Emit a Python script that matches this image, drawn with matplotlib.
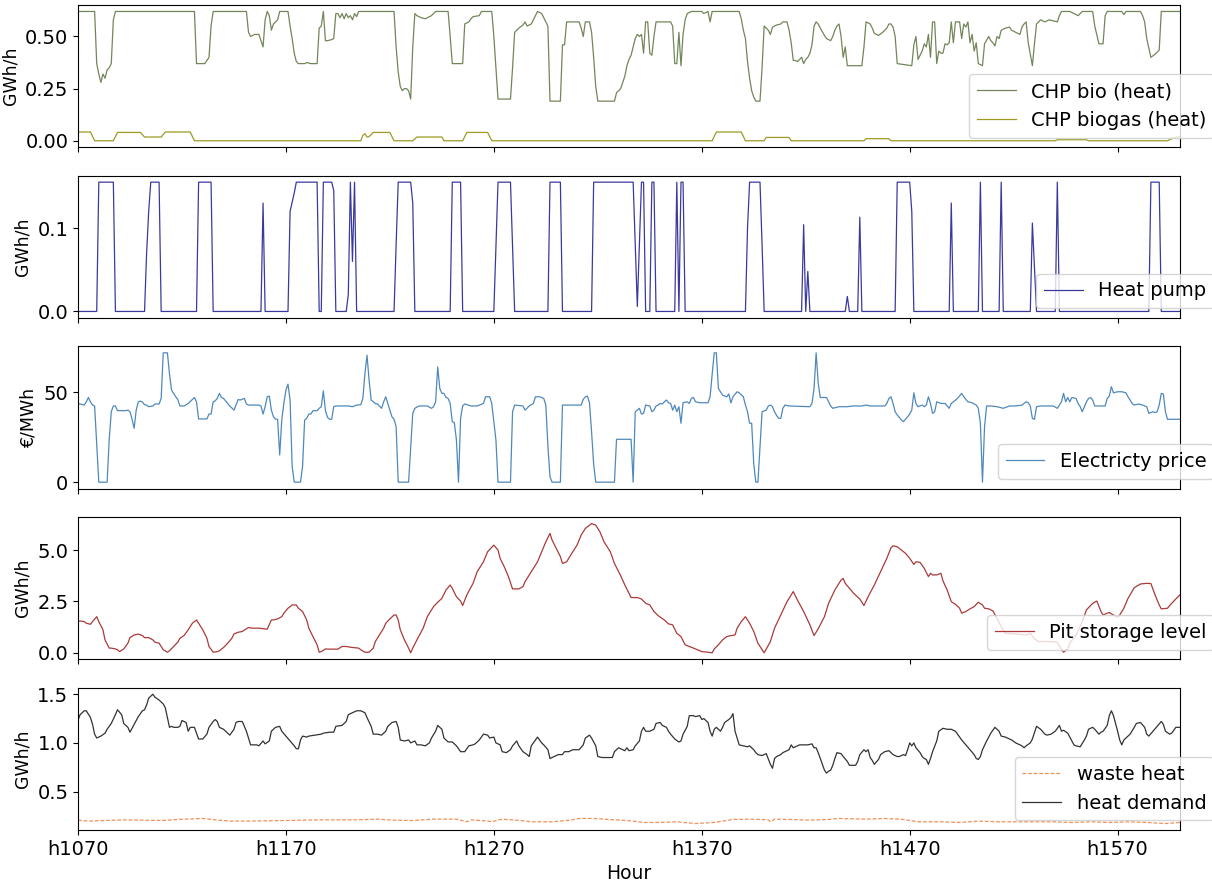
import matplotlib
matplotlib.use("Agg")
import matplotlib.pyplot as plt

# hourly series, stored as (hour, value) break points
chp_bio = [(1070, .62), (1078, .62), (1079, .37), (1080, .32), (1081, .28), (1082, .32), (1083, .30),
           (1084, .34), (1085, .35), (1086, .37), (1087, .58), (1088, .62), (1126, .62), (1127, .37),
           (1131, .37), (1133, .40), (1134, .55), (1135, .62), (1151, .62), (1152, .52), (1153, .50),
           (1155, .51), (1157, .51), (1158, .48), (1159, .45), (1160, .58), (1161, .62), (1162, .60),
           (1163, .53), (1164, .56), (1166, .58), (1167, .62), (1171, .62), (1172, .55), (1173, .49),
           (1174, .42), (1175, .38), (1176, .37), (1179, .37), (1180, .375), (1182, .37), (1185, .37),
           (1186, .54), (1187, .55), (1188, .62), (1189, .48), (1190, .48), (1192, .485), (1193, .49),
           (1194, .61), (1195, .61), (1196, .59), (1197, .61), (1198, .585), (1199, .61), (1200, .59),
           (1201, .60), (1202, .58), (1203, .61), (1204, .595), (1205, .62), (1222, .62), (1223, .45),
           (1224, .33), (1225, .26), (1226, .24), (1227, .25), (1228, .25), (1229, .24), (1230, .20),
           (1231, .45), (1232, .61), (1233, .60), (1235, .59), (1237, .585), (1238, .59), (1240, .60),
           (1241, .61), (1242, .62), (1248, .62), (1249, .50), (1250, .37), (1255, .37), (1256, .56),
           (1258, .57), (1259, .585), (1260, .595), (1263, .60), (1264, .62), (1269, .62), (1270, .50),
           (1271, .35), (1272, .20), (1278, .20), (1279, .35), (1280, .52), (1282, .54), (1284, .555),
           (1285, .57), (1286, .55), (1288, .56), (1290, .60), (1291, .62), (1293, .61), (1294, .59),
           (1295, .57), (1296, .55), (1297, .19), (1302, .19), (1303, .46), (1304, .46), (1305, .57),
           (1311, .57), (1312, .54), (1313, .50), (1314, .57), (1316, .57), (1317, .52), (1318, .40),
           (1319, .26), (1320, .19), (1328, .19), (1329, .23), (1331, .25), (1332, .28), (1333, .31),
           (1334, .36), (1335, .39), (1336, .41), (1337, .45), (1338, .49), (1339, .51), (1340, .50),
           (1341, .51), (1342, .42), (1343, .57), (1344, .57), (1345, .42), (1346, .41), (1347, .50),
           (1348, .57), (1355, .57), (1356, .55), (1357, .37), (1358, .37), (1359, .52), (1360, .36),
           (1361, .51), (1362, .58), (1363, .61), (1365, .62), (1370, .62), (1371, .61), (1373, .62),
           (1374, .57), (1375, .62), (1388, .62), (1389, .585), (1390, .53), (1391, .49), (1392, .38),
           (1393, .30), (1394, .24), (1395, .21), (1396, .19), (1398, .19), (1399, .35), (1400, .55),
           (1401, .54), (1402, .53), (1403, .51), (1404, .545), (1406, .555), (1408, .56), (1409, .57),
           (1411, .57), (1412, .53), (1413, .47), (1414, .385), (1415, .385), (1416, .38), (1417, .39),
           (1418, .40), (1419, .37), (1420, .39), (1421, .40), (1422, .42), (1423, .46), (1424, .55),
           (1425, .57), (1426, .56), (1427, .54), (1429, .505), (1430, .49), (1432, .48), (1433, .50),
           (1434, .53), (1435, .55), (1436, .56), (1437, .50), (1438, .40), (1439, .45), (1440, .36),
           (1447, .36), (1448, .45), (1449, .57), (1451, .56), (1452, .54), (1453, .515), (1455, .505),
           (1457, .52), (1459, .54), (1460, .56), (1461, .56), (1462, .545), (1463, .50), (1464, .37),
           (1471, .36), (1472, .46), (1473, .50), (1474, .39), (1476, .43), (1477, .465), (1478, .45),
           (1479, .51), (1480, .40), (1481, .57), (1482, .57), (1483, .37), (1484, .43), (1485, .42),
           (1486, .42), (1487, .465), (1488, .46), (1489, .47), (1490, .57), (1491, .47), (1492, .57),
           (1494, .57), (1495, .49), (1496, .56), (1497, .545), (1498, .57), (1499, .47), (1500, .51),
           (1501, .43), (1502, .47), (1503, .37), (1505, .36), (1506, .465), (1508, .50), (1509, .48),
           (1510, .47), (1511, .455), (1512, .50), (1513, .49), (1514, .53), (1516, .54), (1518, .545),
           (1519, .53), (1521, .52), (1523, .51), (1524, .545), (1525, .56), (1526, .57), (1527, .47),
           (1529, .36), (1530, .465), (1531, .56), (1532, .57), (1533, .58), (1535, .57), (1537, .58),
           (1541, .57), (1542, .60), (1543, .62), (1547, .62), (1549, .61), (1551, .60), (1553, .62),
           (1558, .62), (1559, .55), (1561, .465), (1563, .465), (1564, .60), (1565, .62), (1572, .62),
           (1573, .605), (1574, .62), (1581, .62), (1582, .60), (1583, .57), (1584, .49), (1586, .40),
           (1588, .415), (1590, .435), (1591, .62), (1600, .62)]

chp_biogas = [(1070, .042), (1076, .042), (1078, 0), (1087, 0), (1089, .04), (1100, .04), (1102, .018),
              (1110, .018), (1112, .042), (1124, .042), (1126, 0), (1206, 0), (1207, .026), (1208, .034),
              (1209, .018), (1210, .02), (1212, .04), (1220, .04), (1222, 0), (1231, 0), (1233, .018),
              (1245, .018), (1246, 0), (1255, 0), (1257, .04), (1267, .04), (1269, 0), (1375, 0),
              (1377, .042), (1389, .042), (1391, 0), (1400, 0), (1401, .016), (1412, .016), (1413, 0),
              (1448, 0), (1449, .01), (1460, .01), (1461, 0), (1540, 0), (1541, .005), (1555, .005),
              (1556, 0), (1594, 0), (1597, .015), (1600, .02)]

T = 0.155  # heat pump capacity
heat_pump = [(1070, 0), (1079, 0), (1080, T), (1087, T), (1088, 0), (1102, 0), (1103, .07), (1104, .12),
             (1105, T), (1109, T), (1110, 0), (1127, 0), (1128, T), (1134, T), (1135, 0), (1158, 0),
             (1159, .13), (1160, 0), (1171, 0), (1172, .12), (1174, .142), (1175, T), (1185, T),
             (1186, 0), (1187, 0), (1188, T), (1192, T), (1193, .145), (1194, 0), (1199, 0), (1200, .02),
             (1201, T), (1202, .06), (1203, T), (1204, 0), (1222, 0), (1223, .08), (1224, T), (1230, T),
             (1231, .13), (1232, 0), (1249, 0), (1250, T), (1254, T), (1255, 0), (1270, 0), (1272, T),
             (1278, T), (1280, 0), (1296, 0), (1297, T), (1302, T), (1303, 0), (1317, 0), (1318, T),
             (1337, T), (1339, .006), (1341, T), (1342, T), (1343, 0), (1345, 0), (1346, T), (1347, T),
             (1348, 0), (1357, 0), (1358, T), (1359, 0), (1360, T), (1361, T), (1362, 0), (1391, 0),
             (1392, .1), (1393, T), (1398, T), (1399, .08), (1400, 0), (1418, 0), (1419, .104),
             (1420, 0), (1421, .048), (1422, 0), (1439, 0), (1440, .018), (1441, 0), (1445, 0),
             (1446, .113), (1447, 0), (1463, 0), (1464, T), (1470, T), (1471, .12), (1472, 0),
             (1489, 0), (1490, .13), (1491, 0), (1503, 0), (1504, T), (1505, 0), (1513, 0), (1514, T),
             (1515, 0), (1528, 0), (1529, .106), (1531, 0), (1540, 0), (1541, T), (1542, 0), (1585, 0),
             (1586, T), (1590, T), (1591, 0), (1600, 0)]

el_price = [(1070, 43.7), (1071, 43.4), (1073, 42.8), (1074, 44.6), (1075, 47), (1076, 44.6), (1077, 42.8),
            (1078, 42.3), (1080, 0), (1084, 0), (1085, 23.4), (1086, 39.1), (1087, 42.3), (1088, 42.3),
            (1089, 39.7), (1093, 39.7), (1094, 40), (1095, 39.1), (1096, 35), (1097, 29.9), (1098, 40),
            (1099, 44.6), (1100, 45), (1101, 44.5), (1102, 43), (1103, 42.8), (1104, 41.9), (1106, 42.3),
            (1107, 43.4), (1109, 43.4), (1110, 46.5), (1111, 71.8), (1113, 71.8), (1114, 60), (1115, 51.1),
            (1116, 49.3), (1117, 47.4), (1118, 45.9), (1119, 42.3), (1121, 42.3), (1123, 43.7),
            (1125, 45.9), (1126, 47), (1127, 44.6), (1128, 35.1), (1132, 35.1), (1133, 37.8),
            (1134, 37.8), (1135, 44.6), (1136, 45.2), (1137, 46.5), (1138, 49.3), (1139, 47), (1140, 46.5),
            (1142, 43.7), (1143, 42.3), (1145, 40), (1146, 42.8), (1147, 45.9), (1148, 45.6), (1150, 46.5),
            (1151, 43.4), (1152, 42.8), (1157, 42.8), (1158, 42.3), (1159, 37.8), (1160, 41.9),
            (1161, 47.4), (1162, 47.8), (1163, 40), (1164, 36.3), (1165, 35), (1166, 34.9), (1167, 15.1),
            (1168, 34.5), (1169, 43.7), (1170, 51.1), (1171, 54.4), (1172, 45.6), (1173, 8.7), (1174, 0),
            (1177, 0), (1178, 8.7), (1179, 34.5), (1180, 35.4), (1181, 37.8), (1182, 37.8), (1183, 39.7),
            (1185, 39.7), (1186, 41), (1187, 41.9), (1188, 50.7), (1189, 39.7), (1190, 36), (1191, 34.9),
            (1192, 34.9), (1193, 41.9), (1194, 42.3), (1200, 42.3), (1202, 41.9), (1204, 42.8),
            (1206, 43), (1207, 46.5), (1208, 60.3), (1209, 70.5), (1210, 56.6), (1211, 45.6),
            (1213, 43.7), (1214, 43.4), (1216, 41), (1217, 44.6), (1218, 47.4), (1219, 43.7), (1220, 40),
            (1221, 36.3), (1222, 34.9), (1223, 30.8), (1224, 0), (1229, 0), (1231, 38.2), (1232, 41),
            (1234, 42.3), (1238, 42.3), (1240, 41), (1241, 41.9), (1242, 44.6), (1243, 64), (1244, 52),
            (1245, 49.3), (1246, 49.3), (1247, 47), (1248, 46.5), (1249, 43.7), (1250, 33.6), (1251, 33),
            (1252, 23.4), (1253, 0), (1254, 35.4), (1255, 42.3), (1256, 43.4), (1259, 42.3), (1262, 42.3),
            (1265, 43.7), (1266, 47.4), (1268, 47.4), (1269, 43.7), (1271, 23.4), (1272, 0), (1278, 0),
            (1279, 39.1), (1280, 42.8), (1284, 42.3), (1285, 40), (1287, 42.3), (1289, 43.7), (1290, 47.4),
            (1292, 47.4), (1294, 46.5), (1295, 42.8), (1296, 20), (1297, 3), (1298, 0), (1302, 0),
            (1303, 42.8), (1312, 42.8), (1313, 46), (1314, 47.4), (1315, 47.8), (1316, 44), (1317, 28),
            (1318, 10), (1319, 0), (1328, 0), (1329, 23.8), (1336, 23.8), (1337, 0), (1338, 39.1),
            (1339, 40), (1340, 41), (1341, 37.8), (1342, 38.2), (1343, 42.8), (1345, 42.3), (1346, 39.1),
            (1347, 40), (1348, 42.3), (1349, 42.8), (1350, 43.7), (1351, 43.4), (1352, 44.6), (1353, 45.6),
            (1354, 44.1), (1355, 43.7), (1356, 40), (1357, 42.8), (1358, 39.1), (1359, 41.9), (1360, 32.7),
            (1361, 44.1), (1363, 44.6), (1364, 43.7), (1365, 46.5), (1366, 47), (1367, 44.6), (1369, 44.1),
            (1373, 44.1), (1374, 47.4), (1375, 60), (1376, 71.8), (1377, 71.8), (1378, 52), (1379, 50.2),
            (1380, 48.3), (1382, 47.4), (1383, 49), (1384, 44), (1385, 47.4), (1387, 50.2), (1388, 49.6),
            (1390, 47.4), (1391, 42.8), (1392, 39.1), (1393, 32.7), (1394, 32.7), (1395, 10), (1396, 0),
            (1397, 0), (1398, 20), (1399, 39.1), (1401, 40), (1402, 42.3), (1403, 42.8), (1404, 41.9),
            (1405, 39.1), (1406, 37), (1407, 35.4), (1408, 35.4), (1409, 41), (1410, 42.8), (1412, 42.3),
            (1422, 41.9), (1423, 43.7), (1424, 52), (1425, 71.8), (1426, 55), (1427, 47), (1430, 47),
            (1431, 44.6), (1432, 42.3), (1433, 41), (1436, 41.9), (1440, 41.9), (1443, 42.3), (1447, 42.3),
            (1449, 42.8), (1451, 42.3), (1458, 42.3), (1459, 43.7), (1460, 46.5), (1461, 47.4),
            (1462, 43.7), (1463, 39.1), (1464, 37.3), (1466, 34.5), (1467, 33.6), (1469, 36.3),
            (1470, 37.8), (1471, 40), (1472, 49.6), (1473, 43.7), (1474, 41.9), (1476, 42.8), (1477, 41.9),
            (1478, 42.8), (1479, 47.4), (1480, 43.7), (1481, 38.2), (1482, 39), (1483, 44.6), (1485, 43.7),
            (1487, 43.7), (1489, 41), (1490, 43.7), (1491, 44.6), (1493, 46.5), (1495, 49.3), (1496, 47.4),
            (1498, 44.6), (1500, 44.1), (1502, 42.8), (1503, 41), (1504, 32.7), (1505, 0), (1506, 30.8),
            (1507, 42.3), (1509, 42.3), (1512, 41.9), (1515, 41), (1518, 42.3), (1521, 42.3), (1524, 42.8),
            (1526, 44.6), (1527, 44.1), (1528, 42.3), (1529, 35.4), (1530, 34.9), (1531, 41.9),
            (1533, 42.3), (1539, 42.3), (1541, 41), (1543, 44.6), (1544, 49.3), (1545, 44.6), (1546, 47),
            (1547, 44.6), (1548, 47), (1550, 46.5), (1551, 43.7), (1552, 41.9), (1553, 39.1), (1554, 41.9),
            (1555, 44.6), (1556, 46.5), (1557, 47), (1558, 45.6), (1559, 42.3), (1564, 42.3), (1565, 46.5),
            (1566, 47.8), (1567, 53), (1568, 49.6), (1570, 50.2), (1572, 50.2), (1574, 49.6), (1575, 47.4),
            (1577, 43.7), (1578, 42.8), (1580, 43.4), (1582, 42.8), (1584, 41.9), (1585, 38.2),
            (1587, 39.1), (1588, 38.6), (1589, 39.1), (1590, 42.8), (1591, 49.3), (1592, 48.9),
            (1593, 39.1), (1594, 34.9), (1600, 34.9)]

pit_level = [(1070, 1.52), (1071, 1.55), (1073, 1.52), (1074, 1.44), (1076, 1.39), (1077, 1.52), (1079, 1.76),
             (1080, 1.52), (1082, 1.12), (1083, 0.63), (1085, 0.23), (1086, 0.23), (1088, 0.19),
             (1089, 0.15), (1090, 0.06), (1092, 0.19), (1094, 0.47), (1095, 0.74), (1097, 0.87),
             (1099, 0.91), (1101, 0.84), (1102, 0.74), (1104, 0.74), (1106, 0.63), (1107, 0.52),
             (1109, 0.47), (1110, 0.31), (1111, 0.15), (1113, 0.03), (1114, 0.10), (1116, 0.31),
             (1118, 0.52), (1119, 0.71), (1121, 0.84), (1123, 1.12), (1125, 1.44), (1127, 1.60),
             (1128, 1.44), (1130, 1.12), (1132, 0.71), (1133, 0.31), (1135, 0.03), (1137, 0.06),
             (1138, 0.10), (1140, 0.26), (1142, 0.47), (1144, 0.71), (1145, 0.92), (1147, 1.0),
             (1149, 1.04), (1151, 1.17), (1152, 1.23), (1154, 1.20), (1157, 1.20), (1161, 1.15),
             (1163, 1.60), (1164, 1.60), (1166, 1.65), (1168, 1.76), (1169, 1.93), (1171, 2.17),
             (1173, 2.33), (1175, 2.33), (1176, 2.17), (1178, 2.01), (1180, 1.60), (1181, 1.20),
             (1183, 0.79), (1185, 0.39), (1186, 0.03), (1187, 0.06), (1189, 0.19), (1191, 0.18),
             (1195, 0.18), (1197, 0.31), (1199, 0.31), (1200, 0.29), (1202, 0.26), (1205, 0.23),
             (1206, 0.15), (1208, 0.03), (1210, 0.03), (1212, 0.23), (1213, 0.55), (1215, 0.87),
             (1217, 1.20), (1218, 1.44), (1220, 1.65), (1222, 1.84), (1223, 1.84), (1224, 1.60),
             (1225, 1.12), (1227, 0.63), (1229, 0.23), (1230, 0), (1231, 0.23), (1233, 0.63),
             (1236, 1.20), (1238, 1.76), (1241, 2.25), (1243, 2.46), (1245, 2.65), (1247, 3.06),
             (1249, 3.30), (1250, 3.14), (1252, 2.73), (1254, 2.52), (1255, 2.30), (1257, 2.82),
             (1260, 3.38), (1262, 3.95), (1265, 4.43), (1267, 4.92), (1270, 5.24), (1272, 5.0),
             (1273, 4.60), (1275, 4.19), (1277, 3.71), (1279, 3.11), (1282, 3.11), (1284, 3.22),
             (1285, 3.46), (1288, 3.95), (1291, 4.43), (1293, 4.92), (1295, 5.40), (1297, 5.81),
             (1298, 5.49), (1300, 5.08), (1302, 4.68), (1303, 4.35), (1305, 4.43), (1307, 4.76),
             (1310, 5.24), (1312, 5.73), (1314, 6.05), (1316, 6.21), (1317, 6.29), (1319, 6.21),
             (1321, 5.89), (1323, 5.40), (1326, 4.92), (1328, 4.35), (1331, 3.75), (1333, 3.30),
             (1335, 2.90), (1336, 2.69), (1339, 2.69), (1341, 2.62), (1343, 2.41), (1345, 2.33),
             (1347, 2.01), (1349, 1.81), (1352, 1.60), (1354, 1.41), (1356, 1.36), (1358, 0.95),
             (1360, 0.79), (1362, 0.39), (1364, 0.31), (1367, 0.19), (1370, 0.06), (1373, 0.03),
             (1375, 0), (1376, 0.19), (1378, 0.39), (1380, 0.63), (1382, 0.79), (1384, 0.84),
             (1386, 0.87), (1387, 1.20), (1389, 1.52), (1391, 1.76), (1393, 1.44), (1395, 1.04),
             (1397, 0.47), (1400, 0), (1403, 0.55), (1405, 1.20), (1408, 1.84), (1411, 2.49),
             (1414, 2.98), (1416, 2.57), (1419, 2.01), (1422, 1.36), (1424, 0.84), (1426, 1.17),
             (1429, 1.76), (1431, 2.41), (1434, 3.06), (1437, 3.54), (1438, 3.62), (1439, 3.38),
             (1441, 3.14), (1443, 2.90), (1446, 2.62), (1448, 2.30), (1450, 2.73), (1453, 3.30),
             (1456, 3.95), (1459, 4.60), (1461, 5.11), (1462, 5.21), (1464, 5.16), (1466, 5.0),
             (1468, 4.84), (1470, 4.60), (1472, 4.30), (1473, 4.43), (1475, 4.40), (1477, 4.11),
             (1479, 3.71), (1480, 3.87), (1481, 3.79), (1483, 3.79), (1485, 3.87), (1486, 3.50),
             (1488, 3.06), (1490, 2.49), (1492, 2.36), (1494, 2.17), (1495, 1.93), (1497, 2.01),
             (1499, 2.14), (1501, 2.25), (1503, 2.46), (1505, 2.33), (1506, 2.17), (1508, 2.14),
             (1510, 2.04), (1512, 1.68), (1514, 1.28), (1516, 0.95), (1521, 0.92), (1526, 0.87),
             (1528, 0.95), (1530, 0.68), (1532, 0.55), (1537, 0.55), (1541, 0.52), (1542, 0.31),
             (1544, 0.03), (1546, 0.19), (1547, 0.47), (1550, 0.87), (1553, 1.52), (1555, 2.09),
             (1558, 2.41), (1560, 2.52), (1562, 2.01), (1563, 1.84), (1565, 1.93), (1566, 1.96),
             (1568, 1.84), (1570, 1.72), (1571, 1.84), (1573, 2.17), (1575, 2.65), (1578, 3.17),
             (1581, 3.35), (1584, 3.38), (1586, 3.37), (1588, 2.82), (1590, 2.33), (1591, 2.14),
             (1594, 2.17), (1595, 2.30), (1598, 2.62), (1600, 2.82)]

waste_heat = [(1070, .207), (1075, .197), (1083, .203), (1092, .21), (1100, .207), (1111, .203), (1118, .214),
              (1130, .224), (1136, .21), (1143, .197), (1152, .197), (1169, .203), (1186, .21), (1204, .21),
              (1214, .217), (1221, .207), (1231, .203), (1241, .217), (1252, .217), (1257, .19),
              (1259, .21), (1267, .197), (1269, .19), (1274, .217), (1283, .203), (1288, .19), (1298, .19),
              (1307, .207), (1311, .224), (1318, .224), (1325, .214), (1331, .207), (1337, .197),
              (1342, .183), (1349, .183), (1358, .19), (1367, .172), (1376, .183), (1385, .214),
              (1394, .217), (1402, .21), (1403, .19), (1405, .217), (1412, .214), (1422, .207),
              (1431, .214), (1436, .224), (1449, .217), (1458, .224), (1467, .214), (1474, .19),
              (1485, .19), (1494, .183), (1503, .197), (1512, .19), (1530, .19), (1539, .19), (1548, .183),
              (1557, .19), (1566, .183), (1575, .19), (1584, .183), (1593, .172), (1600, .183)]

heat_demand = [(1070, 1.23), (1071, 1.29), (1073, 1.33), (1074, 1.33), (1076, 1.26), (1077, 1.19), (1078, 1.09),
               (1079, 1.05), (1081, 1.07), (1083, 1.10), (1084, 1.14), (1086, 1.20), (1088, 1.29),
               (1089, 1.34), (1091, 1.29), (1092, 1.20), (1094, 1.16), (1095, 1.11), (1097, 1.19),
               (1099, 1.27), (1101, 1.33), (1102, 1.34), (1103, 1.39), (1104, 1.46), (1106, 1.50),
               (1107, 1.47), (1109, 1.44), (1111, 1.40), (1112, 1.36), (1113, 1.26), (1114, 1.16),
               (1115, 1.17), (1116, 1.16), (1118, 1.16), (1119, 1.17), (1120, 1.23), (1122, 1.21),
               (1123, 1.12), (1124, 1.16), (1126, 1.16), (1127, 1.10), (1128, 1.04), (1130, 1.04),
               (1132, 1.09), (1133, 1.16), (1135, 1.22), (1136, 1.24), (1137, 1.22), (1138, 1.16),
               (1140, 1.14), (1142, 1.10), (1143, 1.08), (1145, 1.14), (1146, 1.21), (1147, 1.22),
               (1149, 1.22), (1150, 1.17), (1151, 1.12), (1152, 1.05), (1153, 0.98), (1156, 0.98),
               (1157, 0.97), (1159, 1.02), (1160, 0.99), (1162, 1.02), (1163, 1.12), (1165, 1.16),
               (1167, 1.17), (1168, 1.12), (1170, 1.07), (1172, 1.02), (1174, 0.97), (1175, 0.94),
               (1176, 0.94), (1177, 1.03), (1178, 1.07), (1180, 1.06), (1181, 1.07), (1184, 1.08),
               (1187, 1.09), (1188, 1.10), (1191, 1.11), (1193, 1.11), (1194, 1.17), (1197, 1.18),
               (1199, 1.22), (1200, 1.29), (1202, 1.31), (1204, 1.33), (1206, 1.33), (1208, 1.31),
               (1209, 1.26), (1211, 1.17), (1212, 1.09), (1214, 1.09), (1216, 1.08), (1218, 1.12),
               (1219, 1.17), (1221, 1.21), (1223, 1.22), (1224, 1.16), (1225, 1.03), (1227, 1.02),
               (1229, 1.03), (1230, 1.0), (1232, 1.02), (1233, 0.98), (1235, 0.98), (1237, 0.97),
               (1239, 1.0), (1240, 1.05), (1242, 1.12), (1243, 1.18), (1245, 1.14), (1246, 1.05),
               (1248, 1.01), (1250, 1.01), (1252, 0.97), (1254, 0.91), (1256, 0.91), (1258, 0.97),
               (1260, 0.98), (1261, 0.99), (1263, 1.03), (1265, 1.09), (1267, 1.08), (1268, 1.05),
               (1270, 1.06), (1271, 1.0), (1273, 0.98), (1274, 0.91), (1276, 0.90), (1278, 0.93),
               (1279, 0.97), (1281, 1.02), (1282, 0.97), (1284, 0.91), (1286, 0.88), (1287, 0.86),
               (1288, 0.97), (1290, 1.03), (1291, 1.06), (1293, 1.0), (1294, 0.98), (1296, 0.93),
               (1297, 0.84), (1299, 0.86), (1301, 0.88), (1303, 0.88), (1304, 0.91), (1306, 0.91),
               (1308, 0.93), (1311, 0.93), (1313, 0.98), (1314, 1.05), (1316, 1.08), (1317, 1.05),
               (1319, 0.97), (1320, 0.86), (1322, 0.85), (1327, 0.85), (1328, 0.91), (1330, 0.95),
               (1331, 0.94), (1333, 0.92), (1334, 0.95), (1335, 0.92), (1337, 0.93), (1338, 0.97),
               (1340, 1.02), (1341, 1.12), (1342, 1.16), (1343, 1.12), (1345, 1.12), (1347, 1.14),
               (1348, 1.20), (1350, 1.21), (1351, 1.18), (1353, 1.16), (1354, 1.12), (1355, 1.09),
               (1357, 1.04), (1359, 1.01), (1360, 1.02), (1361, 1.09), (1363, 1.17), (1364, 1.28),
               (1366, 1.28), (1367, 1.27), (1369, 1.28), (1370, 1.24), (1371, 1.25), (1373, 1.21),
               (1374, 1.12), (1375, 1.07), (1376, 1.14), (1377, 1.16), (1379, 1.12), (1380, 1.16),
               (1381, 1.21), (1383, 1.24), (1384, 1.26), (1385, 1.30), (1386, 1.12), (1388, 0.98),
               (1390, 0.97), (1392, 0.96), (1393, 0.97), (1395, 0.93), (1396, 0.90), (1397, 0.88),
               (1399, 0.87), (1400, 0.88), (1401, 0.89), (1403, 0.78), (1404, 0.74), (1405, 0.84),
               (1406, 0.86), (1408, 0.88), (1409, 0.90), (1410, 0.91), (1412, 0.93), (1413, 0.98),
               (1414, 0.95), (1416, 0.97), (1417, 0.98), (1421, 0.98), (1423, 0.99), (1424, 0.95),
               (1425, 0.95), (1426, 0.90), (1427, 0.84), (1428, 0.78), (1429, 0.72), (1430, 0.69),
               (1431, 0.71), (1432, 0.72), (1433, 0.77), (1434, 0.84), (1435, 0.90), (1437, 0.89),
               (1438, 0.86), (1440, 0.81), (1441, 0.77), (1444, 0.77), (1445, 0.81), (1446, 0.88),
               (1448, 0.93), (1449, 0.91), (1450, 0.93), (1451, 0.85), (1452, 0.82), (1453, 0.78),
               (1455, 0.83), (1456, 0.88), (1458, 0.91), (1460, 0.92), (1461, 0.90), (1462, 0.88),
               (1464, 0.86), (1465, 0.86), (1467, 0.88), (1468, 0.87), (1469, 0.93), (1470, 1.0),
               (1471, 0.97), (1472, 1.0), (1473, 0.95), (1475, 0.90), (1476, 0.86), (1477, 0.84),
               (1478, 0.83), (1479, 0.78), (1480, 0.84), (1481, 0.91), (1483, 1.02), (1484, 1.12),
               (1486, 1.15), (1488, 1.14), (1490, 1.14), (1492, 1.12), (1493, 1.09), (1495, 1.03),
               (1497, 0.98), (1499, 0.93), (1501, 0.88), (1502, 0.84), (1503, 0.83), (1504, 0.86),
               (1505, 0.93), (1507, 1.02), (1509, 1.10), (1511, 1.16), (1513, 1.12), (1514, 1.07),
               (1516, 1.06), (1517, 1.05), (1519, 1.03), (1521, 1.0), (1522, 0.99), (1524, 0.97),
               (1525, 0.95), (1526, 0.97), (1528, 1.0), (1529, 1.04), (1531, 1.17), (1533, 1.14),
               (1535, 1.09), (1536, 1.08), (1538, 1.09), (1540, 1.12), (1542, 1.18), (1543, 1.12),
               (1544, 1.13), (1546, 1.10), (1548, 1.02), (1549, 0.98), (1550, 0.97), (1552, 0.96),
               (1554, 1.03), (1555, 1.07), (1556, 1.14), (1558, 1.16), (1559, 1.14), (1561, 1.09),
               (1562, 1.11), (1563, 1.12), (1565, 1.18), (1566, 1.28), (1567, 1.33), (1568, 1.28),
               (1570, 1.12), (1571, 1.03), (1572, 0.98), (1573, 1.03), (1575, 1.07), (1576, 1.09),
               (1578, 1.16), (1579, 1.20), (1581, 1.21), (1583, 1.16), (1584, 1.09), (1585, 1.07),
               (1587, 1.12), (1589, 1.17), (1591, 1.22), (1592, 1.19), (1593, 1.12), (1595, 1.09),
               (1596, 1.10), (1598, 1.16), (1600, 1.16)]

tick_hours = [1070, 1170, 1270, 1370, 1470, 1570]
tick_labels = ["h%d" % h for h in tick_hours]


def xy(points):
    return [p[0] for p in points], [p[1] for p in points]


plt.rcParams['font.family'] = ['DejaVu Sans']
fig, axes = plt.subplots(5, 1, figsize=(12.12, 8.82), dpi=100, sharex=True)
fig.subplots_adjust(left=78 / 1212, right=1180 / 1212, top=1 - 5 / 882, bottom=1 - 830 / 882, hspace=0.2)

lw = 0.9
ylab_size = 12.5
ax = axes[0]
ax.plot(*xy(chp_bio), color='#72865a', lw=lw, label='CHP bio (heat)')
ax.plot(*xy(chp_biogas), color='#9c9a22', lw=lw, label='CHP biogas (heat)')
ax.set_yticks([0.0, 0.25, 0.5])
ax.set_ylabel('GWh/h', fontsize=ylab_size)

ax = axes[1]
ax.plot(*xy(heat_pump), color='#3a3a9e', lw=lw, label='Heat pump')
ax.set_yticks([0.0, 0.1])
ax.set_ylabel('GWh/h', fontsize=ylab_size)

ax = axes[2]
ax.plot(*xy(el_price), color='#4f89bb', lw=lw, label='Electricty price')
ax.set_yticks([0, 50])
ax.set_ylabel('€/MWh', fontsize=ylab_size)

ax = axes[3]
ax.plot(*xy(pit_level), color='#aa3a3a', lw=lw, label='Pit storage level')
ax.set_yticks([0.0, 2.5, 5.0])
ax.set_ylabel('GWh/h', fontsize=ylab_size)

ax = axes[4]
ax.plot(*xy(waste_heat), color='#f0905a', lw=lw, ls=(0, (3, 1.5)), label='waste heat')
ax.plot(*xy(heat_demand), color='#333333', lw=lw, label='heat demand')
ax.set_yticks([0.5, 1.0, 1.5])
ax.set_ylabel('GWh/h', fontsize=ylab_size)
ax.set_xlabel('Hour', fontsize=13.5)

for ax in axes:
    ax.set_xlim(1070, 1600)
    ax.tick_params(labelsize=14)
    ax.legend(loc='lower right', bbox_to_anchor=(1.04, 0), fontsize=14)

axes[4].set_xticks(tick_hours)
axes[4].set_xticklabels(tick_labels)

fig.savefig('out.png', dpi=100)
